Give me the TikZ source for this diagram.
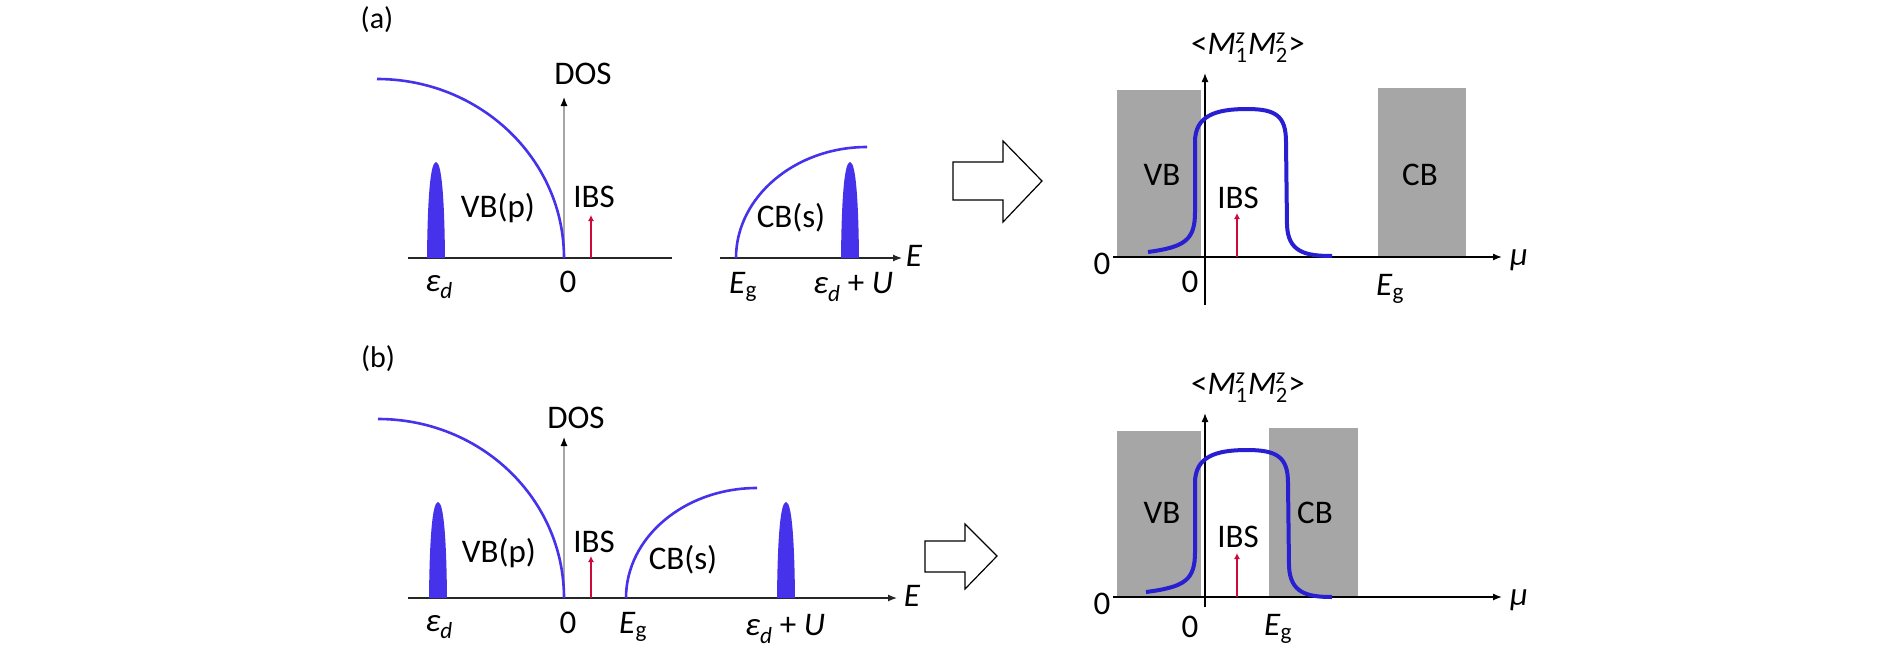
\documentclass[tikz,border=0pt]{standalone}
\usepackage{fontspec}
\setmainfont{Carlito}
\usetikzlibrary{arrows.meta}
\definecolor{bandblue}{RGB}{70,50,235}
\definecolor{curveblue}{RGB}{40,30,210}
\definecolor{boxgray}{RGB}{166,166,166}
\definecolor{ibsred}{RGB}{205,10,60}
\newcommand{\sbsp}[2]{\makebox[0pt][l]{\raisebox{11pt}{\fontsize{22}{22}\selectfont\itshape #1}}\raisebox{-8pt}{\fontsize{22}{22}\selectfont #2}}
\newcommand{\corr}{<\textit{M}\sbsp{z}{1}\hspace{1pt}\textit{M}\sbsp{z}{2}\hspace{1pt}>}
\tikzset{
  lbl/.style={font=\fontsize{33}{40}\selectfont, inner sep=0pt},
  plbl/.style={font=\fontsize{30}{36}\selectfont, inner sep=0pt},
  band/.style={draw=bandblue, line width=2.6pt},
  mcurve/.style={draw=curveblue, line width=4pt},
  dosaxis/.style={draw=black!35, line width=1.2pt, -{Latex[length=9pt,width=7pt,color=black]}},
  eaxis/.style={draw=black!85, line width=1.2pt},
  maxis/.style={draw=black, line width=1.4pt},
  ibsarrow/.style={draw=ibsred, line width=1.6pt, -{Latex[length=6pt,width=6pt]}},
  gbox/.style={fill=boxgray, draw=none},
  bigarrow/.style={draw=black, line width=1.2pt, fill=white},
  pk/.pic={\fill[bandblue] (-9,0) .. controls (-8.5,-55) and (-6,-96) .. (0,-96) .. controls (6,-96) and (8.5,-55) .. (9,0) -- cycle;}
}
\begin{document}
\begin{tikzpicture}[x=1pt,y=-1pt]
\useasboundingbox (0,0) rectangle (1890,648);
\fill[white] (0,0) rectangle (1890,648);

% ================= panel (a) left =================
\node[plbl] (la) at (377,20) {(a)};
\coordinate (a0) at (564,258);
\coordinate (aDtop) at (564,97);
\coordinate (aEl) at (408,258);
\coordinate (aEm) at (672,258);
\coordinate (aEr0) at (720,258);
\coordinate (aEr) at (902,258);
\draw[eaxis] (aEl) -- (aEm);
\draw[eaxis, -{Latex[length=9pt,width=7pt]}] (aEr0) -- (aEr);
\draw[dosaxis] (a0) -- (aDtop);
\draw[band] (377,79) .. controls (480,79) and (564,159) .. (a0);
\draw[band] (736,258) .. controls (736,197) and (795,147) .. (867,147);
\pic at (436,258) {pk};
\pic at (850,258) {pk};
\draw[ibsarrow] (591,258) -- (591,215);
\node[lbl] (aDOS) at (583,74) {DOS};
\node[lbl] (aVB) at (498,208) {VB(p)};
\node[lbl] (aIBS) at (594,197) {IBS};
\node[lbl] (aCB) at (791,218) {CB(s)};
\node[lbl] (aed) at (439,287) {\textit{ε\textsubscript{d}}};
\node[lbl] (azero) at (568,282) {0};
\node[lbl] (aEg) at (743,287) {\textit{E}\textsubscript{g}};
\node[lbl] (aedU) at (853,287) {\textit{ε\textsubscript{d}} + \textit{U}};
\node[lbl] (aE) at (914,256) {\textit{E}};

% big arrow (a)
\draw[bigarrow] (953,162) -- (1003,162) -- (1003,141) -- (1042,181) -- (1003,222) -- (1003,200) -- (953,200) -- cycle;

% ================= panel (a) right =================
\fill[gbox] (1117,90) rectangle (1201,257);
\fill[gbox] (1378,88) rectangle (1466,257);
\draw[maxis, -{Latex[length=9pt,width=7pt]}] (1113,257) -- (1502,257);
\draw[maxis, -{Latex[length=9pt,width=7pt]}] (1205,305) -- (1205,73);
\draw[mcurve] (1148,252) .. controls (1185,247) and (1195,240) .. (1195,212) -- (1195,142)
  .. controls (1195,116) and (1215,109) .. (1247,109) .. controls (1276,109) and (1286,116) .. (1286,142)
  -- (1287,225) .. controls (1288,252) and (1305,256) .. (1332,256);
\draw[ibsarrow] (1237,257) -- (1237,213);
\node[lbl] (aM) at (1248,48) {\corr};
\node[lbl] (arVB) at (1162,175) {VB};
\node[lbl] (arCB) at (1420,175) {CB};
\node[lbl] (arIBS) at (1238,198) {IBS};
\node[lbl] (arz1) at (1102,264) {0};
\node[lbl] (arz2) at (1190,282) {0};
\node[lbl] (arEg) at (1390,289) {\textit{E}\textsubscript{g}};
\node[lbl] (armu) at (1519,260) {\textit{μ}};

% ================= panel (b) left =================
\node[plbl] (lb) at (378,359) {(b)};
\coordinate (b0) at (564,598);
\coordinate (bDtop) at (564,437);
\coordinate (bEl) at (408,598);
\coordinate (bEr) at (897,598);
\draw[eaxis, -{Latex[length=9pt,width=7pt]}] (bEl) -- (bEr);
\draw[dosaxis] (b0) -- (bDtop);
\draw[band] (378,419) .. controls (481,419) and (564,499) .. (b0);
\draw[band] (626,598) .. controls (626,537) and (685,488) .. (757,488);
\pic at (438,598) {pk};
\pic at (786,598) {pk};
\draw[ibsarrow] (591,598) -- (591,556);
\node[lbl] (bDOS) at (576,418) {DOS};
\node[lbl] (bVB) at (499,553) {VB(p)};
\node[lbl] (bIBS) at (594,542) {IBS};
\node[lbl] (bCB) at (683,560) {CB(s)};
\node[lbl] (bed) at (439,627) {\textit{ε\textsubscript{d}}};
\node[lbl] (bzero) at (568,623) {0};
\node[lbl] (bEg) at (633,627) {\textit{E}\textsubscript{g}};
\node[lbl] (bedU) at (785,629) {\textit{ε\textsubscript{d}} + \textit{U}};
\node[lbl] (bE) at (912,596) {\textit{E}};

% big arrow (b)
\draw[bigarrow] (925,541) -- (965,541) -- (965,524) -- (997,556) -- (965,589) -- (965,572) -- (925,572) -- cycle;

% ================= panel (b) right =================
\fill[gbox] (1117,431) rectangle (1201,597);
\fill[gbox] (1269,428) rectangle (1358,597);
\draw[maxis, -{Latex[length=9pt,width=7pt]}] (1113,597) -- (1502,597);
\draw[maxis, -{Latex[length=9pt,width=7pt]}] (1205,607) -- (1205,413);
\draw[mcurve] (1146,592) .. controls (1185,587) and (1195,580) .. (1195,552) -- (1195,483)
  .. controls (1195,457) and (1215,450) .. (1247,450) .. controls (1277,450) and (1288,457) .. (1288,483)
  -- (1289,566) .. controls (1290,593) and (1307,597) .. (1332,597);
\draw[ibsarrow] (1237,597) -- (1237,553);
\node[lbl] (bM) at (1248,388) {\corr};
\node[lbl] (brVB) at (1162,513) {VB};
\node[lbl] (brCB) at (1315,513) {CB};
\node[lbl] (brIBS) at (1238,537) {IBS};
\node[lbl] (brz1) at (1102,604) {0};
\node[lbl] (brz2) at (1190,627) {0};
\node[lbl] (brEg) at (1278,629) {\textit{E}\textsubscript{g}};
\node[lbl] (brmu) at (1519,600) {\textit{μ}};
\end{tikzpicture}
\end{document}
